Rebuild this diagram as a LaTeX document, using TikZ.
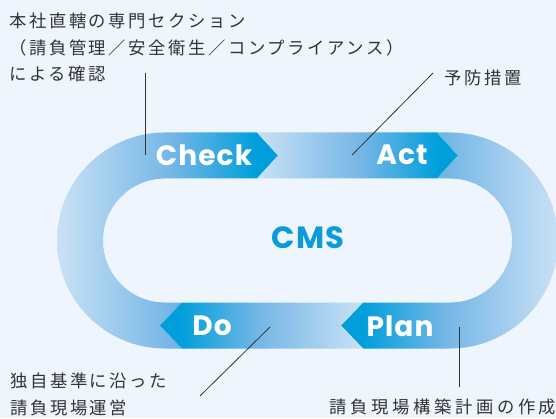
\documentclass[tikz,border=0pt]{standalone}
\usepackage{fontspec}
\newfontfamily\jpfont{Noto Sans CJK JP}[LetterSpace=15]
\newfontfamily\stepfont{Poppins}[LetterSpace=4]
\definecolor{cmsBack}{HTML}{EEF5FC}
\definecolor{cmsInk}{HTML}{333333}
\definecolor{cmsLight}{HTML}{C9E1F5}
\definecolor{cmsMid}{HTML}{74B6E6}
\definecolor{cmsDeep}{HTML}{009FDB}
\definecolor{cmsTitle}{HTML}{0A9BDA}
\pgfdeclarehorizontalshading{cmsflow}{100bp}{color(0bp)=(cmsLight); color(25bp)=(cmsLight);
  color(51bp)=(cmsMid); color(70bp)=(cmsDeep); color(100bp)=(cmsDeep)}
\tikzset{
  cms canvas/.style={fill=cmsBack},
  cms band/.style={shading=cmsflow, shading angle=0},
  cms band back/.style={shading=cmsflow, shading angle=180},
  cms step/.style={font=\stepfont\bfseries\fontsize{21}{24}\selectfont, text=white, inner sep=0},
  cms title/.style={font=\stepfont\bfseries\fontsize{23}{26}\selectfont, text=cmsTitle, inner sep=0},
  cms note/.style={font=\jpfont\fontsize{13}{20}\selectfont, text=cmsInk, align=left,
    inner sep=0, anchor=west},
  cms leader/.style={draw=cmsInk, line width=.6pt}
}
\begin{document}
\begin{tikzpicture}[x=.75pt,y=.75pt]
  \path[cms canvas] (0,0) rectangle (556,418);
  \clip (0,0) rectangle (556,418);

  \shade[cms band] (182,69.5) -- (165,69.5) arc[start angle=270, end angle=90, radius=108]
    -- (257,285.5) -- (278,262.5) -- (257,239.5) -- (165,239.5)
    arc[start angle=90, end angle=270, radius=62] -- (182,115.5) -- (160,92.5) -- cycle;
  \shade[cms band] (257,285.5) -- (437,285.5) -- (458,262.5) -- (437,239.5)
    -- (257,239.5) -- (278,262.5) -- cycle;
  \shade[cms band back] (437,285.5) -- (450,285.5) arc[start angle=90, end angle=-90, radius=108]
    -- (363,69.5) -- (341,92.5) -- (363,115.5) -- (450,115.5)
    arc[start angle=-90, end angle=90, radius=62] -- (437,239.5) -- (458,262.5) -- cycle;
  \shade[cms band back] (363,115.5) -- (182,115.5) -- (160,92.5) -- (182,69.5)
    -- (363,69.5) -- (341,92.5) -- cycle;

  \node[cms step] (check) at (204,263) {Check};
  \node[cms step] (act) at (402,263) {Act};
  \node[cms step] (do) at (212,92) {Do};
  \node[cms step] (plan) at (400,92) {Plan};
  \node[cms title] (cms) at (308,180) {CMS};

  \node[cms note] (checkNote) at (9,370.5)
    {本社直轄の専門セクション\\（請負管理／安全衛生／コンプライアンス）\\による確認};
  \node[cms note] (actNote) at (444,340) {予防措置};
  \node[cms note] (doNote) at (10,23.5) {独自基準に沿った\\請負現場運営};
  \node[cms note] (planNote) at (329,11) {\addfontfeature{LetterSpace=21}請負現場構築計画の作成};

  \coordinate (checkTail) at (145,345);
  \coordinate (checkPin) at (145,263);
  \coordinate (actTail) at (433,345);
  \coordinate (actPin) at (352,263);
  \coordinate (doTail) at (200,22);
  \coordinate (doPin) at (270,91);
  \coordinate (planTail) at (459,31);
  \coordinate (planPin) at (459,91);
  \draw[cms leader] (checkTail) -- (checkPin);
  \draw[cms leader] (actTail) -- (actPin);
  \draw[cms leader] (doTail) -- (doPin);
  \draw[cms leader] (planTail) -- (planPin);
\end{tikzpicture}
\end{document}
